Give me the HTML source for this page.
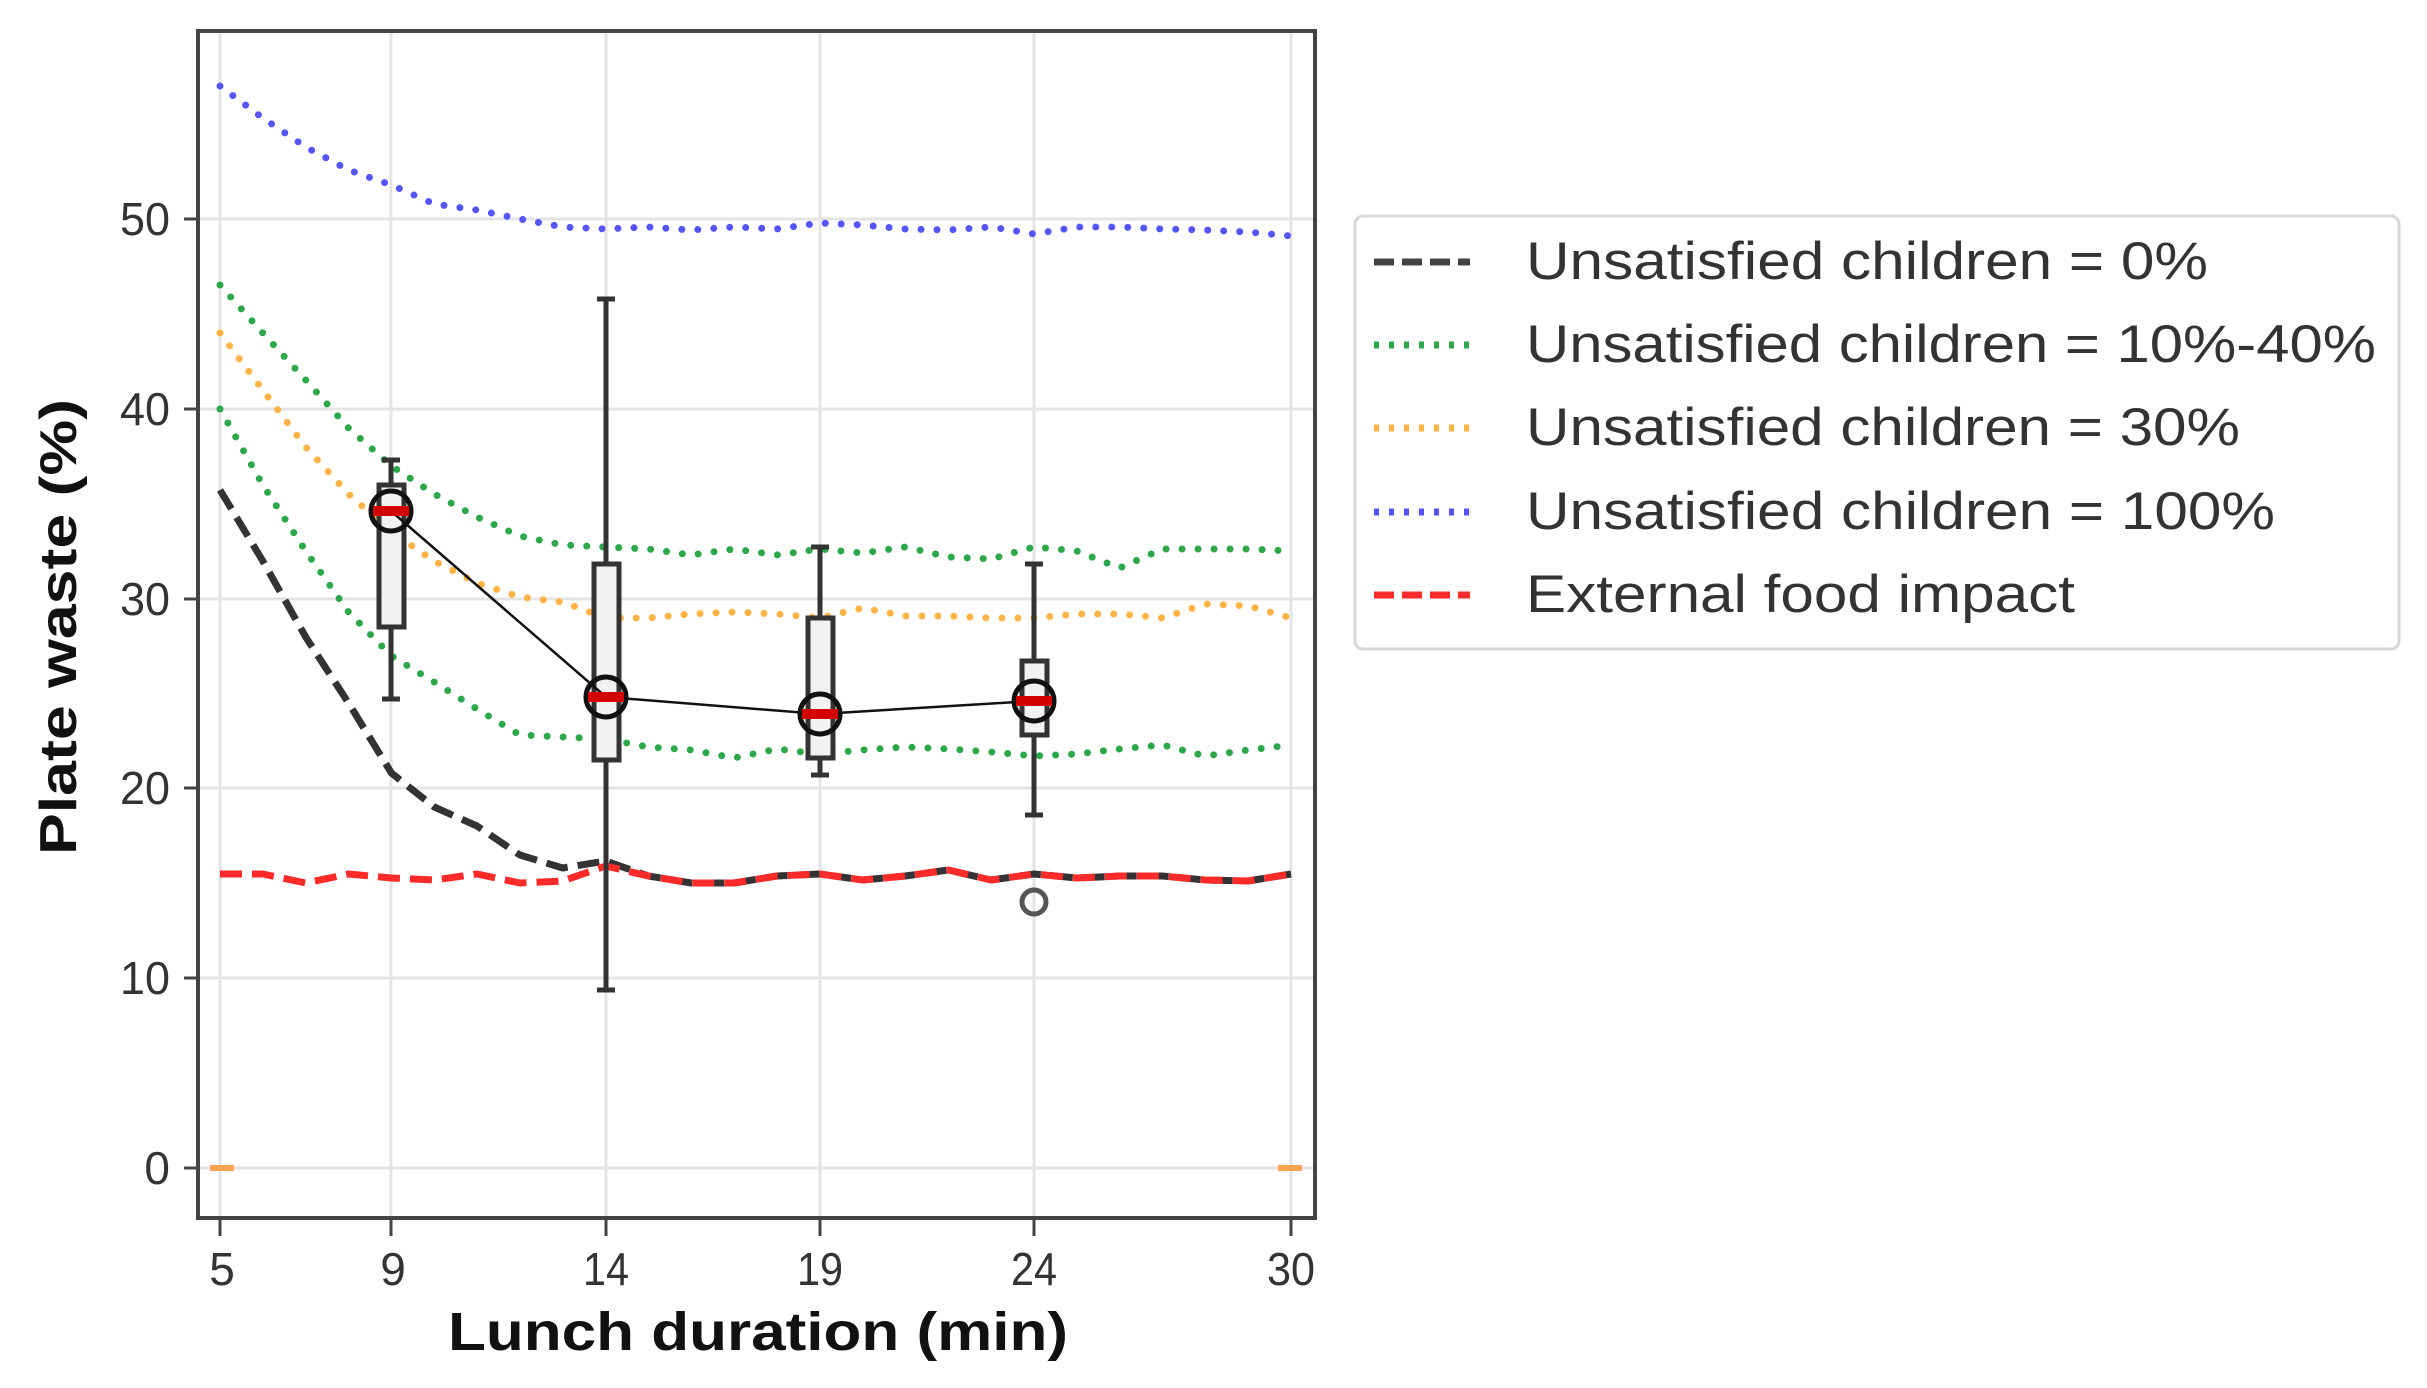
<!DOCTYPE html>
<html><head><meta charset="utf-8"><style>
html,body{margin:0;padding:0;background:#fff;}
svg{display:block;}
text{font-family:"Liberation Sans",sans-serif;}
</style></head><body>
<svg width="2427" height="1388" viewBox="0 0 2427 1388" xmlns="http://www.w3.org/2000/svg">
<rect width="2427" height="1388" fill="#fff"/>
<g stroke="#e4e4e4" stroke-width="3">
<line x1="198" x2="1315" y1="1168" y2="1168"/>
<line x1="198" x2="1315" y1="978" y2="978"/>
<line x1="198" x2="1315" y1="788" y2="788"/>
<line x1="198" x2="1315" y1="599" y2="599"/>
<line x1="198" x2="1315" y1="409" y2="409"/>
<line x1="198" x2="1315" y1="219" y2="219"/>
<line x1="220" x2="220" y1="31" y2="1218"/>
<line x1="391" x2="391" y1="31" y2="1218"/>
<line x1="606" x2="606" y1="31" y2="1218"/>
<line x1="820" x2="820" y1="31" y2="1218"/>
<line x1="1034" x2="1034" y1="31" y2="1218"/>
<line x1="1291" x2="1291" y1="31" y2="1218"/>
</g>
<line x1="210" x2="234" y1="1168" y2="1168" stroke="#ffa54f" stroke-width="6"/>
<line x1="1278" x2="1302" y1="1168" y2="1168" stroke="#ffa54f" stroke-width="6"/>
<g fill="none" stroke-linecap="round" stroke-linejoin="round">
<polyline stroke="#5555ff" stroke-width="7" stroke-dasharray="0 16" points="220,86 262.8,118 305.7,147 348.5,170 391.4,185 434.2,204 477,210 519.9,219 562.7,227 605.6,229 648.4,227 691.2,230 734.1,227 776.9,229 819.8,223 862.6,225 905.4,229 948.3,230 991.1,227 1034,234 1076.8,227 1119.6,227 1162.5,229 1205.3,230 1248.2,232 1291,236"/>
<polyline stroke="#2ca84a" stroke-width="7" stroke-dasharray="0 16" points="220,285 262.8,333 305.7,380 348.5,428 391.4,466 434.2,494 477,517 519.9,536 562.7,545 605.6,547 648.4,549 691.2,555 734.1,549 776.9,555 819.8,549 862.6,553 905.4,547 948.3,557 991.1,559 1034,547 1076.8,551 1119.6,568 1162.5,549 1205.3,549 1248.2,549 1291,551"/>
<polyline stroke="#ffb347" stroke-width="7" stroke-dasharray="0 16" points="220,333 262.8,390 305.7,447 348.5,494 391.4,532 434.2,561 477,583 519.9,597 562.7,602 605.6,618 648.4,618 691.2,614 734.1,612 776.9,614 819.8,618 862.6,608 905.4,616 948.3,616 991.1,618 1034,618 1076.8,614 1119.6,614 1162.5,618 1205.3,604 1248.2,606 1291,618"/>
<polyline stroke="#2ca84a" stroke-width="7" stroke-dasharray="0 16" points="220,409 262.8,485 305.7,551 348.5,612 391.4,656 434.2,682 477,709 519.9,735 562.7,737 605.6,739 648.4,747 691.2,750 734.1,758 776.9,749 819.8,754 862.6,750 905.4,747 948.3,749 991.1,752 1034,756 1076.8,754 1119.6,749 1162.5,745 1205.3,756 1248.2,750 1291,745"/>
<polyline stroke="#333" stroke-width="7" stroke-linecap="butt" stroke-dasharray="22 10" points="220,490 262.8,561 305.7,637 348.5,703 391.4,773 434.2,807 477,826 519.9,855 562.7,868 605.6,861 648.4,876 691.2,883 734.1,883 776.9,876 819.8,874 862.6,880 905.4,876 948.3,870 991.1,880 1034,874 1076.8,878 1119.6,876 1162.5,876 1205.3,880 1248.2,881 1291,874"/>
<polyline stroke="#ff2a2a" stroke-width="7" stroke-linecap="butt" stroke-dasharray="22 10" points="220,874 262.8,874 305.7,883 348.5,874 391.4,878 434.2,880 477,874 519.9,883 562.7,881 605.6,866 648.4,876 691.2,883 734.1,883 776.9,876 819.8,874 862.6,880 905.4,876 948.3,870 991.1,880 1034,874 1076.8,878 1119.6,876 1162.5,876 1205.3,880 1248.2,881 1291,874"/>
</g>
<g stroke="#333" stroke-width="5" fill="#f2f2f2">
<line x1="391" x2="391" y1="460" y2="699"/><line x1="382" x2="400" y1="460" y2="460"/><line x1="382" x2="400" y1="699" y2="699"/>
<rect x="379" y="485" width="25" height="142"/>
<line x1="606" x2="606" y1="299" y2="990"/><line x1="597" x2="615" y1="299" y2="299"/><line x1="597" x2="615" y1="990" y2="990"/>
<rect x="594" y="564" width="25" height="196"/>
<line x1="820" x2="820" y1="547" y2="775"/><line x1="811" x2="829" y1="547" y2="547"/><line x1="811" x2="829" y1="775" y2="775"/>
<rect x="808" y="618" width="25" height="140"/>
<line x1="1034" x2="1034" y1="564" y2="815"/><line x1="1025" x2="1043" y1="564" y2="564"/><line x1="1025" x2="1043" y1="815" y2="815"/>
<rect x="1022" y="661" width="25" height="74"/>
</g>
<circle cx="1034" cy="902" r="12" fill="none" stroke="#555" stroke-width="5"/>
<polyline points="391,511 606,697 820,714 1034,701" fill="none" stroke="#111" stroke-width="2.5"/>
<g stroke="#111" stroke-width="5" fill="none">
<circle cx="391" cy="511" r="20"/><circle cx="606" cy="697" r="20"/><circle cx="820" cy="714" r="20"/><circle cx="1034" cy="701" r="20"/>
</g>
<g stroke="#d40000" stroke-width="10">
<line x1="373" x2="409" y1="511" y2="511"/><line x1="588" x2="624" y1="697" y2="697"/><line x1="802" x2="838" y1="714" y2="714"/><line x1="1016" x2="1052" y1="701" y2="701"/>
</g>
<rect x="198" y="31" width="1117" height="1187" fill="none" stroke="#444" stroke-width="4"/>
<g stroke="#444" stroke-width="3">
<line x1="220" x2="220" y1="1218" y2="1236"/><line x1="391" x2="391" y1="1218" y2="1236"/><line x1="606" x2="606" y1="1218" y2="1236"/><line x1="820" x2="820" y1="1218" y2="1236"/><line x1="1034" x2="1034" y1="1218" y2="1236"/><line x1="1291" x2="1291" y1="1218" y2="1236"/>
<line x1="184" x2="198" y1="1168" y2="1168"/><line x1="184" x2="198" y1="978" y2="978"/><line x1="184" x2="198" y1="788" y2="788"/><line x1="184" x2="198" y1="599" y2="599"/><line x1="184" x2="198" y1="409" y2="409"/><line x1="184" x2="198" y1="219" y2="219"/>
</g>
<g font-size="46" fill="#333" text-anchor="end">
<text x="170" y="1184">0</text>
<text x="170" y="994" textLength="50" lengthAdjust="spacingAndGlyphs">10</text>
<text x="170" y="804" textLength="50" lengthAdjust="spacingAndGlyphs">20</text>
<text x="170" y="615" textLength="50" lengthAdjust="spacingAndGlyphs">30</text>
<text x="170" y="425" textLength="50" lengthAdjust="spacingAndGlyphs">40</text>
<text x="170" y="235" textLength="50" lengthAdjust="spacingAndGlyphs">50</text>
</g>
<g font-size="46" fill="#333" text-anchor="middle">
<text x="222" y="1285">5</text>
<text x="393" y="1285">9</text>
<text x="606" y="1285" textLength="46" lengthAdjust="spacingAndGlyphs">14</text>
<text x="820" y="1285" textLength="46" lengthAdjust="spacingAndGlyphs">19</text>
<text x="1034" y="1285" textLength="46" lengthAdjust="spacingAndGlyphs">24</text>
<text x="1291" y="1285" textLength="48" lengthAdjust="spacingAndGlyphs">30</text>
</g>
<text x="448" y="1350" font-size="54" font-weight="bold" fill="#111" textLength="620" lengthAdjust="spacingAndGlyphs">Lunch duration (min)</text>
<text transform="translate(76,627) rotate(-90)" x="0" y="0" text-anchor="middle" font-size="52" font-weight="bold" fill="#111" textLength="456" lengthAdjust="spacingAndGlyphs">Plate waste (%)</text>
<rect x="1355" y="216" width="1044" height="433" rx="8" fill="#fff" stroke="#d8d8d8" stroke-width="3"/>
<g fill="none" stroke-width="7">
<line x1="1374" x2="1470" y1="262" y2="262" stroke="#444" stroke-dasharray="20 8"/>
<line x1="1374" x2="1470" y1="345" y2="345" stroke="#2ca84a" stroke-dasharray="5 10"/>
<line x1="1374" x2="1470" y1="428" y2="428" stroke="#ffb347" stroke-dasharray="5 10"/>
<line x1="1374" x2="1470" y1="512" y2="512" stroke="#5555ff" stroke-dasharray="5 10"/>
<line x1="1374" x2="1470" y1="595" y2="595" stroke="#ff2a2a" stroke-dasharray="20 8"/>
</g>
<g font-size="53" fill="#333">
<text x="1526" y="279" textLength="682" lengthAdjust="spacingAndGlyphs">Unsatisfied children = 0%</text>
<text x="1526" y="362" textLength="850" lengthAdjust="spacingAndGlyphs">Unsatisfied children = 10%-40%</text>
<text x="1526" y="445" textLength="714" lengthAdjust="spacingAndGlyphs">Unsatisfied children = 30%</text>
<text x="1526" y="529" textLength="749" lengthAdjust="spacingAndGlyphs">Unsatisfied children = 100%</text>
<text x="1526" y="612" textLength="549" lengthAdjust="spacingAndGlyphs">External food impact</text>
</g>
</svg>
</body></html>
